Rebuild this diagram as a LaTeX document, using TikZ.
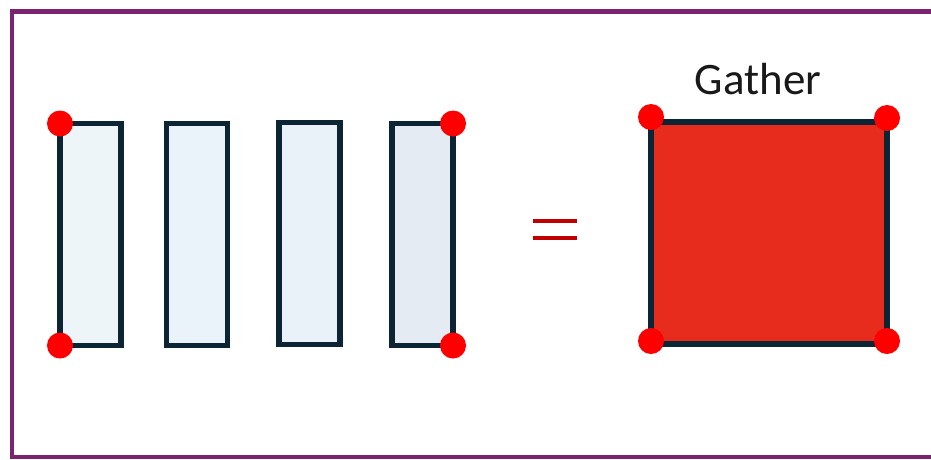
\documentclass[tikz,border=0pt]{standalone}
\usepackage{fontspec}
\setmainfont{Carlito}
\usetikzlibrary{positioning}
\definecolor{frameviolet}{HTML}{7B2270}
\definecolor{barline}{HTML}{0B2535}
\definecolor{barfillA}{HTML}{EEF5F9}
\definecolor{barfillB}{HTML}{EBF3FA}
\definecolor{barfillC}{HTML}{EAF2F9}
\definecolor{barfillD}{HTML}{E4EBF2}
\definecolor{gatherred}{HTML}{E72B1D}
\definecolor{eqred}{HTML}{C00000}
\tikzset{
  bar/.style={draw=barline,line width=5.6pt,minimum width=61pt,minimum height=222pt,inner sep=0pt,outer sep=0pt},
  corner/.style={circle,fill=red,minimum size=26pt,inner sep=0pt},
  eqbar/.style={draw=eqred,line width=4pt}
}

\begin{document}
\begin{tikzpicture}[x=1pt,y=-1pt]
\useasboundingbox (0,0) rectangle (931,459);
\draw[frameviolet,line width=4.6pt] (12,11.5) rectangle (950,457);
\node[bar,fill=barfillA] (bar1) at (90.5,234.5) {};
\node[bar,fill=barfillB] (bar2) at (197,234.5) {};
\node[bar,fill=barfillC] (bar3) at (309.5,233.5) {};
\node[bar,fill=barfillD] (bar4) at (422.5,234.5) {};
\node[corner] (c1) at (bar1.north west) {};
\node[corner] (c2) at (bar4.north east) {};
\node[corner] (c3) at (bar1.south west) {};
\node[corner] (c4) at (bar4.south east) {};
% equals sign
\draw[eqbar] (533,221) -- (577,221);
\draw[eqbar] (533,238) -- (577,238);
\node[draw=barline,line width=5.6pt,fill=gatherred,minimum width=236pt,minimum height=222pt,inner sep=0pt,outer sep=0pt] (sq) at (769,233) {};
\node[font=\fontsize{45}{50}\selectfont,text=black!90] (gather) at (758,79) {Gather};
\node[corner,yshift=5pt] (s1) at (sq.north west) {};
\node[corner,yshift=4pt] (s2) at (sq.north east) {};
\node[corner,yshift=3pt] (s3) at (sq.south west) {};
\node[corner,yshift=3pt] (s4) at (sq.south east) {};
\end{tikzpicture}
\end{document}
